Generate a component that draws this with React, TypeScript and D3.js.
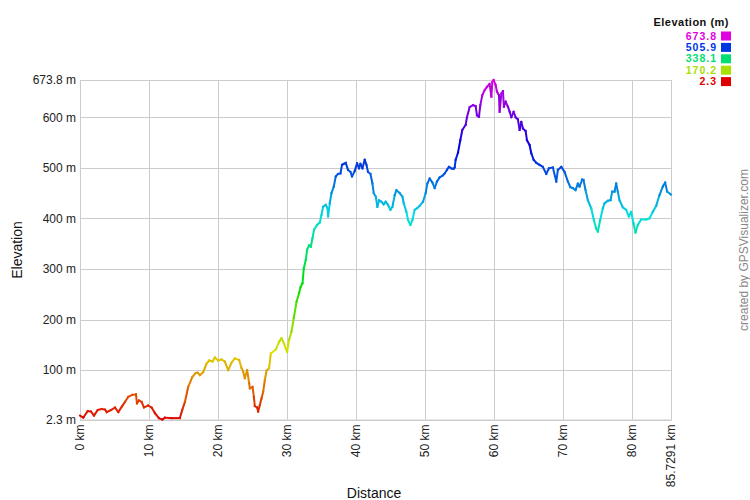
import React from "react";
import * as d3 from "d3";

const distKm = [
  0.0, 0.48, 1.12, 1.59, 2.03, 2.57, 3.14, 3.62, 3.87, 4.49, 5.07, 5.55, 6.13, 6.52, 7.0, 7.58, 8.12, 8.26, 8.55, 8.94,
  9.28, 9.9, 10.39, 10.87, 11.45, 11.93, 12.32, 13.29, 14.49, 14.83, 15.22, 15.7, 16.28, 16.77, 17.06, 17.39, 17.87,
  18.36, 18.74, 19.23, 19.57, 20.04, 20.54, 21.01, 21.49, 21.99, 22.46, 23.09, 23.43, 23.67, 23.91, 24.25, 24.54,
  24.64, 25.03, 25.22, 25.36, 25.7, 25.84, 26.09, 26.33, 26.57, 26.81, 27.06, 27.43, 27.68, 28.41, 28.88, 29.23,
  29.57, 30.04, 30.33, 30.68, 31.01, 31.41, 31.78, 31.99, 32.28, 32.46, 32.75, 32.94, 33.23, 33.48, 33.72, 33.96,
  34.39, 34.78, 35.03, 35.26, 35.65, 35.9, 35.99, 36.23, 36.48, 36.81, 37.1, 37.43, 37.78, 38.01, 38.26, 38.55,
  38.88, 39.23, 39.46, 39.86, 40.19, 40.48, 40.68, 40.97, 41.3, 41.55, 41.78, 42.13, 42.42, 42.61, 42.9, 43.14,
  43.38, 43.72, 44.06, 44.35, 44.68, 45.03, 45.32, 45.65, 45.9, 46.38, 46.77, 46.96, 47.35, 47.58, 47.93, 48.22,
  48.55, 48.88, 49.28, 49.75, 50.14, 50.39, 50.72, 51.12, 51.45, 51.78, 52.17, 52.65, 52.9, 53.23, 53.52, 53.87,
  54.2, 54.35, 54.49, 54.83, 55.17, 55.46, 55.94, 56.13, 56.52, 57.0, 57.39, 57.58, 57.87, 58.07, 58.36, 58.7,
  59.03, 59.42, 59.67, 59.81, 60.0, 60.29, 60.48, 60.77, 60.87, 61.12, 61.35, 61.49, 61.74, 62.07, 62.32, 62.57,
  62.9, 63.19, 63.52, 63.77, 64.01, 64.25, 64.64, 64.83, 65.22, 65.46, 65.8, 66.19, 66.67, 67.14, 67.64, 68.01,
  68.59, 69.09, 69.32, 69.81, 70.29, 70.77, 71.12, 71.49, 71.88, 72.22, 72.46, 72.86, 73.04, 73.33, 73.67, 74.16,
  74.54, 74.88, 75.12, 75.46, 75.84, 76.09, 76.57, 76.96, 77.2, 77.54, 77.78, 78.01, 78.26, 78.74, 79.23, 79.61,
  79.96, 80.29, 80.58, 80.91, 81.41, 82.13, 82.61, 83.09, 83.58, 84.06, 84.54, 84.88, 85.17, 85.65, 85.7291,
];

const elevM = [
  10, 6, 19, 18, 10, 21, 23, 22, 17, 21, 26, 17, 29, 37, 47, 51, 52, 34, 40, 37,
  26, 30, 26, 15, 5, 2.3, 6, 5, 5, 21, 37, 67, 86, 94, 95, 90, 96,
  113, 119, 117, 125, 119, 121, 117, 100, 115, 123, 120, 104, 97, 84, 100, 74,
  64, 67, 47, 29, 26, 18, 31, 44, 57, 80, 99, 104, 133, 141, 156, 163,
  153, 136, 160, 176, 203, 235, 252, 264, 272, 301, 318, 338, 347, 344, 361, 378,
  387, 392, 407, 423, 427, 420, 404, 430, 450, 463, 483, 488, 489, 506, 508, 510,
  496, 492, 483, 494, 509, 499, 508, 499, 516, 506, 492, 488, 469, 450, 443, 423,
  436, 433, 428, 433, 427, 417, 423, 446, 456, 450, 443, 430, 413, 397, 387, 397,
  417, 420, 425, 433, 450, 469, 479, 471, 460, 473, 481, 485, 489, 496, 502, 499,
  498, 501, 516, 530, 555, 575, 585, 600, 620, 624, 622, 604, 601, 624, 644, 654,
  660, 666, 641, 670, 673.8, 664, 651, 644, 611, 647, 652, 621, 631, 621, 611, 600,
  611, 600, 596, 575, 591, 578, 573, 555, 545, 529, 516, 510, 506, 502, 488, 499,
  501, 473, 496, 502, 492, 473, 462, 460, 456, 469, 463, 477, 476, 456, 436, 420,
  397, 380, 374, 397, 420, 430, 435, 436, 453, 453, 469, 453, 436, 422, 417, 404,
  413, 390, 372, 387, 398, 398, 400, 413, 425, 446, 463, 471, 453, 448, 447,
];

const yTicks = [2.3, 100, 200, 300, 400, 500, 600, 673.8];
const xTicks = [0, 10, 20, 30, 40, 50, 60, 70, 80, 85.7291];
const legendValues = [673.8, 505.9, 338.1, 170.2, 2.3];

const W = 750;
const H = 500;
const FONT = "Arial, 'Liberation Sans', sans-serif";

export default function App() {
  const left = 80, right = 671, top = 80, bottom = 419.5;
  const minE = 2.3, maxE = 673.8;
  const x = d3.scaleLinear().domain([0, 85.7291]).range([left, right]);
  const y = d3.scaleLinear().domain([minE, maxE]).range([bottom, top]);
  const color = (e: number) =>
    d3.hsl((300 * (e - minE)) / (maxE - minE), 1, 0.44).formatHex();

  const segs = [];
  for (let i = 0; i < distKm.length - 1; i++) {
    const e = (elevM[i] + elevM[i + 1]) / 2;
    segs.push(
      <line
        key={i}
        x1={x(distKm[i])}
        y1={y(elevM[i])}
        x2={x(distKm[i + 1])}
        y2={y(elevM[i + 1])}
        stroke={color(e)}
        strokeWidth={2}
        strokeLinecap="square"
      />
    );
  }

  return (
    <svg
      width={W}
      height={H}
      style={{ position: "absolute", left: 0, top: 0, background: "#fff" }}
      fontFamily={FONT}
    >
      <rect x={0} y={0} width={W} height={H} fill="#fff" />
      {yTicks.map((t) => (
        <g key={"y" + t}>
          <line x1={left} x2={right} y1={Math.round(y(t)) + 0.5} y2={Math.round(y(t)) + 0.5} stroke="#ccc" />
          <text x={left - 4} y={y(t)} dy="0.35em" textAnchor="end" fontSize={12} fill="#222">
            {t + " m"}
          </text>
        </g>
      ))}
      {xTicks.map((t) => (
        <g key={"x" + t}>
          <line x1={Math.round(x(t)) + 0.5} x2={Math.round(x(t)) + 0.5} y1={top} y2={bottom} stroke="#ccc" />
          <text
            transform={`translate(${x(t)},${bottom + 5}) rotate(-90)`}
            dy="0.35em"
            textAnchor="end"
            fontSize={12}
            fill="#222"
          >
            {t + " km"}
          </text>
        </g>
      ))}
      <rect x={left + 0.5} y={top + 0.5} width={right - left} height={bottom - top} fill="none" stroke="#ccc" />
      <g>{segs}</g>
      <text x={374} y={498} textAnchor="middle" fontSize={14} fill="#111">
        Distance
      </text>
      <text transform="translate(22,250) rotate(-90)" textAnchor="middle" fontSize={14} fill="#111">
        Elevation
      </text>
      <text x={729} y={26} textAnchor="end" fontSize={11} fontWeight="bold" letterSpacing={0.5} fill="#111">
        Elevation (m)
      </text>
      {legendValues.map((v, i) => (
        <g key={"l" + v}>
          <text x={717} y={36 + i * 11.4} dy="0.35em" textAnchor="end" fontSize={10.5} fontWeight="bold" letterSpacing={1} fill={color(v)}>
            {v.toFixed(1)}
          </text>
          <rect x={721} y={31.5 + i * 11.4} width={10} height={9} fill={color(v)} />
        </g>
      ))}
      <text transform="translate(748,250) rotate(-90)" textAnchor="middle" fontSize={12} fill="#888">
        created by GPSVisualizer.com
      </text>
    </svg>
  );
}
